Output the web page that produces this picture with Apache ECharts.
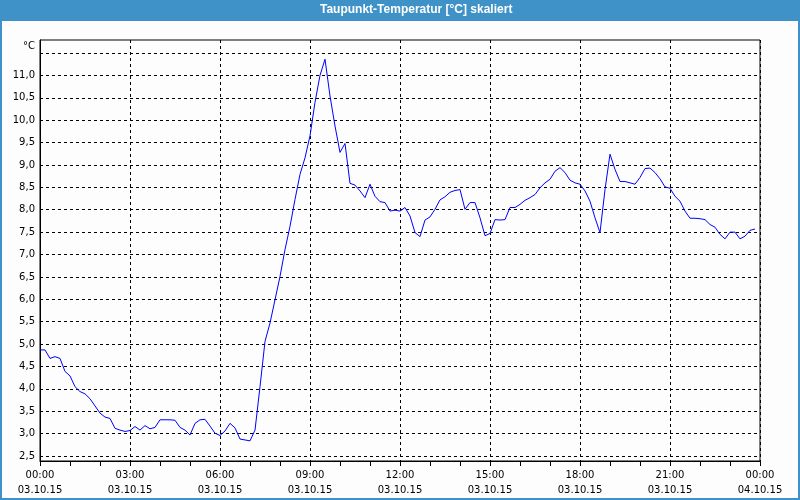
<!DOCTYPE html>
<html>
<head>
<meta charset="utf-8">
<script src="https://cdn.jsdelivr.net/npm/echarts@6/dist/echarts.min.js"></script>
<style>
html,body{margin:0;padding:0;background:#3e92c7;}
#chart{width:800px;height:500px;}
</style>
</head>
<body>
<div id="chart"></div>
<script>
// Dew point values, one every 10 minutes from 03.10.15 00:00 to 23:50
var values00to07 = [
  4.87, 4.87, 4.68, 4.72, 4.68, 4.39,
  4.29, 4.05, 3.94, 3.89, 3.78, 3.62,
  3.46, 3.37, 3.34, 3.12, 3.08, 3.05,
  3.07, 3.16, 3.08, 3.18, 3.11, 3.14,
  3.31, 3.31, 3.31, 3.30, 3.14, 3.08,
  2.97, 3.23, 3.31, 3.32, 3.17, 3.01,
  2.96, 3.06, 3.23, 3.13, 2.88, 2.86
];
var values07to12 = [
  2.84, 3.08, 4.05, 5.06, 5.47, 5.99,
  6.51, 7.11, 7.63, 8.23, 8.79, 9.16,
  9.65, 10.40, 11.00, 11.36, 10.54, 9.87,
  9.28, 9.48, 8.59, 8.55, 8.42, 8.27,
  8.57, 8.30, 8.18, 8.16, 7.97, 7.99
];
var values12to24 = [
  7.97, 8.05, 7.86, 7.49, 7.40, 7.77,
  7.84, 8.01, 8.22, 8.29, 8.39, 8.43,
  8.45, 8.01, 8.16, 8.16, 7.82, 7.42,
  7.47, 7.78, 7.77, 7.78, 8.05, 8.05,
  8.12, 8.21, 8.27, 8.34, 8.49, 8.60,
  8.68, 8.86, 8.94, 8.83, 8.66, 8.60,
  8.57, 8.42, 8.19, 7.82, 7.49, 8.45,
  9.24, 8.90, 8.63, 8.63, 8.60, 8.57,
  8.72, 8.92, 8.93, 8.83, 8.69, 8.51,
  8.48, 8.30, 8.19, 7.97, 7.81, 7.81,
  7.80, 7.78, 7.67, 7.61, 7.45, 7.35,
  7.50, 7.50, 7.35, 7.41, 7.54, 7.57
];
var yTickValues = [2.5, 3.0, 3.5, 4.0, 4.5, 5.0, 5.5, 6.0, 6.5, 7.0, 7.5, 8.0, 8.5, 9.0, 9.5, 10.0, 10.5, 11.0, 11.5];
var xTimeLabels = ['00:00', '03:00', '06:00', '09:00', '12:00', '15:00', '18:00', '21:00', '00:00'];
var xDateLabels = ['03.10.15', '03.10.15', '03.10.15', '03.10.15', '03.10.15', '03.10.15', '03.10.15', '03.10.15', '04.10.15'];
var titleText = 'Taupunkt-Temperatur [°C] skaliert';

var allValues = values00to07.concat(values07to12, values12to24);
var seriesData = allValues.map(function (v, i) { return [i / 6, v]; });

var chart = echarts.init(document.getElementById('chart'), null, {renderer: 'canvas'});
var font = 'DejaVu Sans';
chart.setOption({
  animation: false,
  backgroundColor: '#3e92c7',
  graphic: [
    {type: 'rect', z: -10, silent: true, shape: {x: 2, y: 21, width: 796, height: 477}, style: {fill: '#fcfdfc'}},
    {type: 'text', z: 10, left: 320, top: 4, style: {text: titleText, fill: '#ffffff', font: 'bold 12px "Liberation Sans"'}}
  ],
  grid: {left: 40, right: 40, top: 40, bottom: 39, show: true, borderColor: '#000', borderWidth: 1, backgroundColor: 'transparent'},
  xAxis: {
    type: 'value', min: 0, max: 24, interval: 3,
    axisLine: {show: true, lineStyle: {color: '#000', width: 1}},
    axisTick: {show: true, length: 5, lineStyle: {color: '#000'}},
    minorTick: {show: true, splitNumber: 3, length: 5, lineStyle: {color: '#000'}},
    splitLine: {show: true, lineStyle: {color: '#000', type: [3, 3], width: 1}},
    axisLabel: {
      color: '#000', fontFamily: font, fontSize: 10, lineHeight: 15, margin: 7,
      formatter: function (v) { var i = Math.round(v / 3); return xTimeLabels[i] + '\n' + xDateLabels[i]; }
    }
  },
  yAxis: {
    type: 'value', min: 2.39, max: 11.79,
    axisLine: {show: true, lineStyle: {color: '#000', width: 1}},
    axisTick: {show: false, customValues: yTickValues},
    splitLine: {show: true, lineStyle: {color: '#000', type: [3, 3], width: 1}},
    axisLabel: {
      customValues: yTickValues,
      color: '#000', fontFamily: font, fontSize: 10, margin: 5,
      formatter: function (v) { return v > 11.4 ? '{c|°C}' : v.toFixed(1).replace('.', ','); },
      rich: {c: {color: '#000', fontFamily: font, fontSize: 10, padding: [0, 0, 14, 0]}}
    }
  },
  series: [{
    type: 'line', data: seriesData, showSymbol: false, symbol: 'none',
    lineStyle: {color: '#0000ff', width: 1}, z: 5
  }]
});
</script>
</body>
</html>
